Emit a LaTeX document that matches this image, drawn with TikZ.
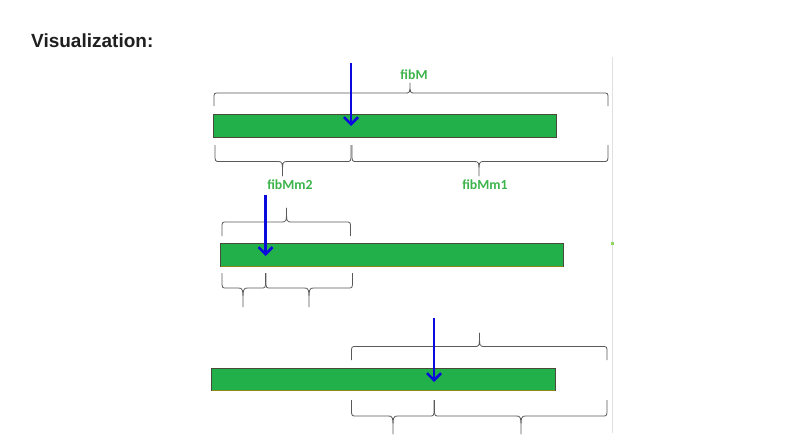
\documentclass[tikz,border=0pt]{standalone}
\usepackage{fontspec}
\setmainfont{Liberation Sans}
\newfontfamily\labfont{Carlito}
\usetikzlibrary{arrows.meta}
\definecolor{barfill}{HTML}{22B04B}
\definecolor{bardraw}{HTML}{4A4A3A}
\definecolor{barolive}{HTML}{8A8A20}
\definecolor{labgreen}{HTML}{3CB44B}
\definecolor{arrowblue}{HTML}{0A0ADC}
\definecolor{bracegray}{HTML}{5A5A5A}
\tikzset{
  bar/.style={fill=barfill, draw=bardraw, line width=0.9pt},
  pointer/.style={draw=arrowblue, line width=2.6pt, -{Straight Barb[length=7pt,width=14pt,line width=2.6pt]}},
  bracestyle/.style={draw=bracegray, line width=0.8pt, line join=round},
  lab/.style={text=labgreen, font=\labfont\bfseries\fontsize{13.8}{14}\selectfont, inner sep=0pt},
}
% #1 x-left, #2 x-right, #3 x-tip, #4 y-ends, #5 y-line, #6 y-tip
\newcommand\curlybrace[6]{%
  \draw[bracestyle] (#1,#4) -- (#1,{#5+0.45*(#4-#5)}) .. controls (#1,#5) .. ({#1+5},#5)
    -- ({#3-5},#5) .. controls (#3,#5) .. (#3,#6)
    .. controls (#3,#5) .. ({#3+5},#5)
    -- ({#2-5},#5) .. controls (#2,#5) .. (#2,{#5+0.45*(#4-#5)}) -- (#2,#4);}
\begin{document}
\begin{tikzpicture}[x=1pt,y=-1pt]
\useasboundingbox[fill=white] (0,0) rectangle (808,447);
\node[anchor=base west, inner sep=0pt, text=black!88, font=\bfseries\fontsize{19}{21}\selectfont] (title) at (31,47.5) {Visualization:};
% right border line and dot
\draw[black!12, line width=1pt] (612.5,57) -- (612.5,433);
\fill[green!45!olive!60] (611,241.5) rectangle (614,244.5);
% ---- row 1 ----
\curlybrace{214}{608}{410}{106}{93}{83}
\node[lab] (fibM) at (414,75) {fibM};
\path[bar] (213,114) rectangle (556,137);
\coordinate (a1s) at (351,63);
\coordinate (a1e) at (351,126);
\draw[pointer] (a1s) -- (a1e);
\curlybrace{215}{351}{282.5}{145}{161.5}{176}
\curlybrace{352}{608}{479}{145}{161.5}{176}
\node[lab] (fibMm2) at (290,185) {fibMm2};
\node[lab] (fibMm1) at (485,185) {fibMm1};
% ---- row 2 ----
\curlybrace{222}{350.5}{286.5}{236}{222}{208}
\path[bar] (220.5,243) rectangle (563,266);
\draw[barolive, line width=0.9pt] (220.5,266) -- (563,266);
\coordinate (a2s) at (265.5,195);
\coordinate (a2e) at (265.5,256);
\draw[pointer] (a2s) -- (a2e);
\curlybrace{222}{265.5}{243}{273}{288}{307}
\curlybrace{266}{352.5}{309}{273}{288}{307}
% ---- row 3 ----
\curlybrace{351.5}{607}{479.5}{360}{346.5}{333}
\path[bar] (211.5,368) rectangle (555,390);
\draw[barolive, line width=0.9pt] (211.5,390) -- (555,390);
\coordinate (a3s) at (434,318);
\coordinate (a3e) at (434,382);
\draw[pointer] (a3s) -- (a3e);
\curlybrace{351.5}{434}{393}{400}{416}{434}
\curlybrace{434.5}{607}{521}{400}{416}{434}
\end{tikzpicture}
\end{document}
